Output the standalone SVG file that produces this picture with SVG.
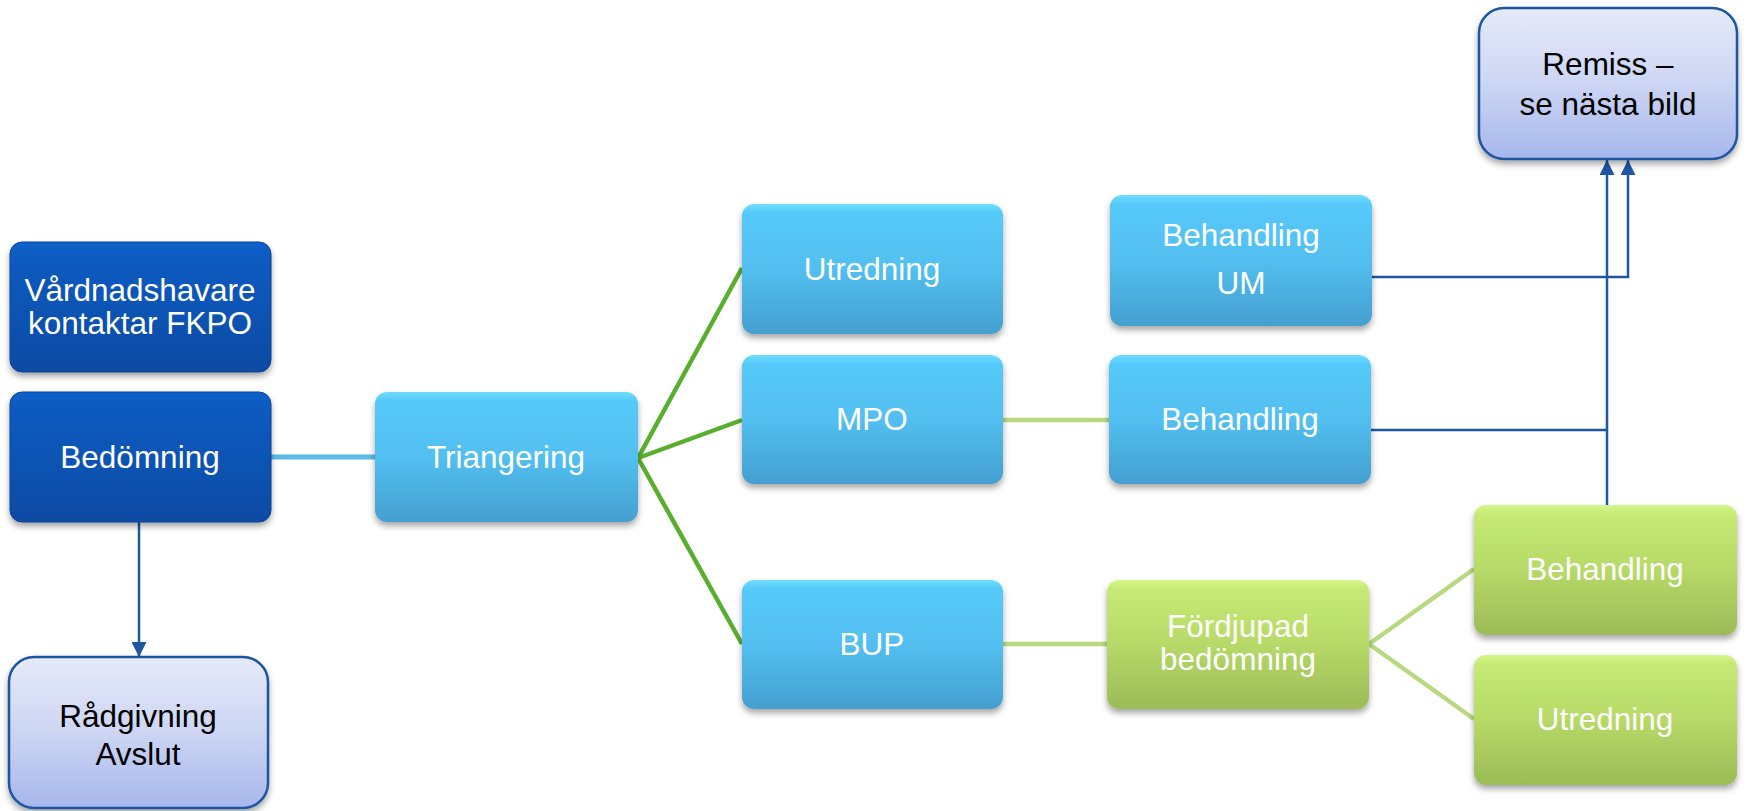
<svg xmlns="http://www.w3.org/2000/svg" width="1748" height="811" viewBox="0 0 1748 811">
<style>
text{font-family:"Liberation Sans",Arial,sans-serif;font-size:31.5px;text-anchor:middle}
.w{fill:#ffffff}
.k{fill:#000000}
.dk rect{fill:url(#gDark);stroke:#0A4496;stroke-width:1}
.lb rect{fill:url(#gBlue)}
.gr rect{fill:url(#gGreen)}
.lv rect{fill:url(#gLav);stroke:#1E56A0;stroke-width:2.5}
.node rect{filter:url(#sh)}
.c-blue{stroke:#1E56A0;stroke-width:2.5;fill:none}
.c-sky{stroke:#5DBAE2;stroke-width:5;fill:none}
.c-green{stroke:#5AAE2E;stroke-width:4.5;fill:none}
.c-lg{stroke:#B9D981;stroke-width:4.5;fill:none}
</style>
<defs>
<linearGradient id="gDark" x1="0" y1="0" x2="0" y2="1">
<stop offset="0" stop-color="#0C62CC"/><stop offset="0.08" stop-color="#0A5BC2"/><stop offset="1" stop-color="#0A4BA4"/>
</linearGradient>
<linearGradient id="gBlue" x1="0" y1="0" x2="0" y2="1">
<stop offset="0" stop-color="#6EDCFF"/><stop offset="0.07" stop-color="#56C9FB"/><stop offset="0.5" stop-color="#52BFF0"/><stop offset="1" stop-color="#449FD0"/>
</linearGradient>
<linearGradient id="gGreen" x1="0" y1="0" x2="0" y2="1">
<stop offset="0" stop-color="#D4F58A"/><stop offset="0.07" stop-color="#C6EA74"/><stop offset="0.5" stop-color="#B6D968"/><stop offset="1" stop-color="#9BBC57"/>
</linearGradient>
<linearGradient id="gLav" x1="0" y1="0" x2="0" y2="1">
<stop offset="0" stop-color="#E6EAF9"/><stop offset="0.5" stop-color="#CCD5F3"/><stop offset="1" stop-color="#A7B7EC"/>
</linearGradient>
<filter id="sh" x="-10%" y="-10%" width="120%" height="130%">
<feDropShadow dx="0" dy="4" stdDeviation="3" flood-color="#000" flood-opacity="0.35"/>
</filter>
<marker id="arr" viewBox="0 0 10 10" refX="10" refY="5" markerWidth="6.5" markerHeight="6" markerUnits="strokeWidth" orient="auto">
<path d="M0,0 L10,5 L0,10 z" fill="#1E56A0"/>
</marker>
</defs>

<g id="connectors">
<line class="c-sky" x1="271" y1="457" x2="375" y2="457"/>
<line class="c-blue" x1="139" y1="522" x2="139" y2="657" marker-end="url(#arr)"/>
<line class="c-green" x1="638" y1="458" x2="742" y2="268"/>
<line class="c-green" x1="638" y1="458" x2="742" y2="420"/>
<line class="c-green" x1="638" y1="458" x2="742" y2="644"/>
<line class="c-lg" x1="1003" y1="420" x2="1109" y2="420"/>
<line class="c-lg" x1="1003" y1="644" x2="1107" y2="644"/>
<line class="c-lg" x1="1369" y1="644" x2="1474" y2="569"/>
<line class="c-lg" x1="1369" y1="644" x2="1474" y2="719"/>
<polyline class="c-blue" points="1372,277 1628,277 1628,160" marker-end="url(#arr)"/>
<line class="c-blue" x1="1607" y1="505" x2="1607" y2="160" marker-end="url(#arr)"/>
<line class="c-blue" x1="1371" y1="430" x2="1607" y2="430"/>
</g>

<g id="n-vardnad" class="node dk"><rect x="10" y="242" width="261" height="130" rx="12"/>
<text class="w" x="140" y="301">Vårdnadshavare</text><text class="w" x="140" y="334">kontaktar FKPO</text></g>
<g id="n-bedomning" class="node dk"><rect x="10" y="392" width="261" height="130" rx="12"/>
<text class="w" x="140" y="468">Bedömning</text></g>
<g id="n-radgivning" class="node lv"><rect x="9" y="657" width="259" height="151" rx="25"/>
<text class="k" x="138" y="727">Rådgivning</text><text class="k" x="138" y="765">Avslut</text></g>
<g id="n-triangering" class="node lb"><rect x="375" y="392" width="263" height="130" rx="12"/>
<text class="w" x="506" y="468">Triangering</text></g>
<g id="n-utredning" class="node lb"><rect x="742" y="204" width="261" height="130" rx="12"/>
<text class="w" x="872" y="280">Utredning</text></g>
<g id="n-mpo" class="node lb"><rect x="742" y="355" width="261" height="129" rx="12"/>
<text class="w" x="872" y="430">MPO</text></g>
<g id="n-bup" class="node lb"><rect x="742" y="580" width="261" height="129" rx="12"/>
<text class="w" x="872" y="655">BUP</text></g>
<g id="n-behandling-um" class="node lb"><rect x="1110" y="195" width="262" height="131" rx="12"/>
<text class="w" x="1241" y="246">Behandling</text><text class="w" x="1241" y="294">UM</text></g>
<g id="n-behandling-mpo" class="node lb"><rect x="1109" y="355" width="262" height="129" rx="12"/>
<text class="w" x="1240" y="430">Behandling</text></g>
<g id="n-fordjupad" class="node gr"><rect x="1107" y="580" width="262" height="129" rx="12"/>
<text class="w" x="1238" y="637">Fördjupad</text><text class="w" x="1238" y="670">bedömning</text></g>
<g id="n-behandling-g" class="node gr"><rect x="1474" y="505" width="263" height="130" rx="12"/>
<text class="w" x="1605" y="580">Behandling</text></g>
<g id="n-utredning-g" class="node gr"><rect x="1474" y="655" width="263" height="130" rx="12"/>
<text class="w" x="1605" y="730">Utredning</text></g>
<g id="n-remiss" class="node lv"><rect x="1479" y="8" width="258" height="151" rx="25"/>
<text class="k" x="1608" y="75">Remiss –</text><text class="k" x="1608" y="115">se nästa bild</text></g>
</svg>
